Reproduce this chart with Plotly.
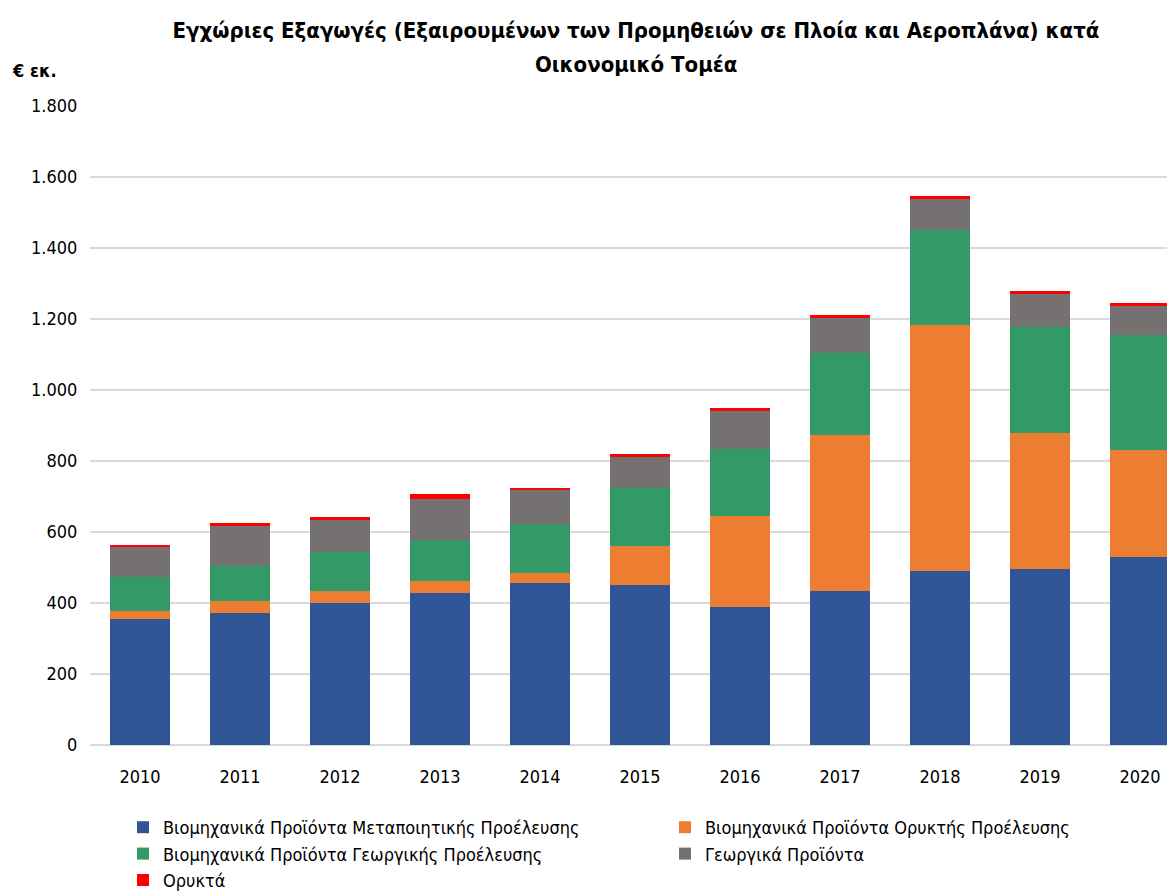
import plotly.graph_objects as go

years = ["2010", "2011", "2012", "2013", "2014", "2015", "2016", "2017", "2018", "2019", "2020"]
manufacturing = [354, 371, 399, 427, 456, 450, 389, 433, 489, 496, 529]
mineral_industrial = [23, 34, 35, 34, 28, 111, 256, 441, 693, 384, 301]
agri_industrial = [95, 100, 110, 117, 139, 162, 190, 229, 269, 297, 324]
agricultural = [85, 112, 90, 116, 95, 89, 106, 102, 88, 94, 84]
minerals = [6, 7, 7, 13, 6, 8, 7, 5, 7, 7, 6]

series_names = [
    "Βιομηχανικά Προϊόντα Μεταποιητικής Προέλευσης",
    "Βιομηχανικά Προϊόντα Ορυκτής Προέλευσης",
    "Βιομηχανικά Προϊόντα Γεωργικής Προέλευσης",
    "Γεωργικά Προϊόντα",
    "Ορυκτά",
]
series_values = [manufacturing, mineral_industrial, agri_industrial, agricultural, minerals]
colors = ["#2F5597", "#ED7D31", "#339966", "#767171", "#FF0000"]
legend_column = ["legend", "legend2", "legend", "legend2", "legend"]

y_ticks = [0, 200, 400, 600, 800, 1000, 1200, 1400, 1600, 1800]
y_ticktext = ["0", "200", "400", "600", "800", "1.000", "1.200", "1.400", "1.600", "1.800"]

FONT = "DejaVu Sans Condensed"

W, H = 1167, 892
L, R, T, B = 90, 0, 106, 147

fig = go.Figure()
for name, vals, col, lg in zip(series_names, series_values, colors, legend_column):
    fig.add_trace(go.Bar(
        x=years, y=vals, name=name, legend=lg,
        marker=dict(color=col, line=dict(width=0)),
    ))

legend_common = dict(
    orientation="v",
    xref="container", yref="container",
    xanchor="left",
    y=1 - 809 / H, yanchor="top",
    itemwidth=30,
    font=dict(family=FONT, size=18),
    traceorder="normal",
    bgcolor="rgba(0,0,0,0)",
)

fig.update_layout(
    barmode="stack",
    bargap=0.4,
    width=W, height=H,
    paper_bgcolor="white", plot_bgcolor="white",
    margin=dict(l=L, r=R, t=T, b=B, autoexpand=False),
    font=dict(family=FONT, size=18, color="#000000"),
    title=dict(
        text="<b>Εγχώριες Εξαγωγές (Εξαιρουμένων των Προμηθειών σε Πλοία και Αεροπλάνα) κατά</b>",
        x=636 / W, xref="container", xanchor="center",
        y=1 - 30 / H, yref="container", yanchor="middle",
        font=dict(family=FONT, size=22, color="#000000"),
    ),
    xaxis=dict(
        type="category",
        range=[-0.5, 10.27],
        showgrid=False,
        showline=False,
        ticks="outside", ticklen=15, tickcolor="rgba(0,0,0,0)",
        tickfont=dict(family=FONT, size=18),
        automargin=False,
    ),
    yaxis=dict(
        range=[0, 1800],
        tickvals=y_ticks, ticktext=y_ticktext,
        showgrid=True, gridcolor="#D9D9D9", gridwidth=2,
        zeroline=True, zerolinecolor="#D9D9D9", zerolinewidth=2,
        showline=False,
        ticks="outside", ticklen=8, tickcolor="rgba(0,0,0,0)",
        tickfont=dict(family=FONT, size=18),
        automargin=False,
    ),
    legend=dict(x=123 / W, **legend_common),
    legend2=dict(x=665 / W, **legend_common),
    annotations=[
        dict(text="<b>Οικονομικό Τομέα</b>",
             xref="paper", yref="paper",
             x=(636 - L) / (W - L - R), y=(H - B - 65) / (H - T - B),
             showarrow=False, xanchor="center", yanchor="middle",
             font=dict(family=FONT, size=22)),
        dict(text="<b>€ εκ.</b>",
             xref="paper", yref="paper",
             x=(10 - L) / (W - L - R), y=(H - B - 70) / (H - T - B),
             showarrow=False, xanchor="left", yanchor="middle",
             font=dict(family=FONT, size=18)),
    ],
)

fig.write_html("out.html", config={"displayModeBar": False},
               post_script="document.body.style.margin='0px';")
